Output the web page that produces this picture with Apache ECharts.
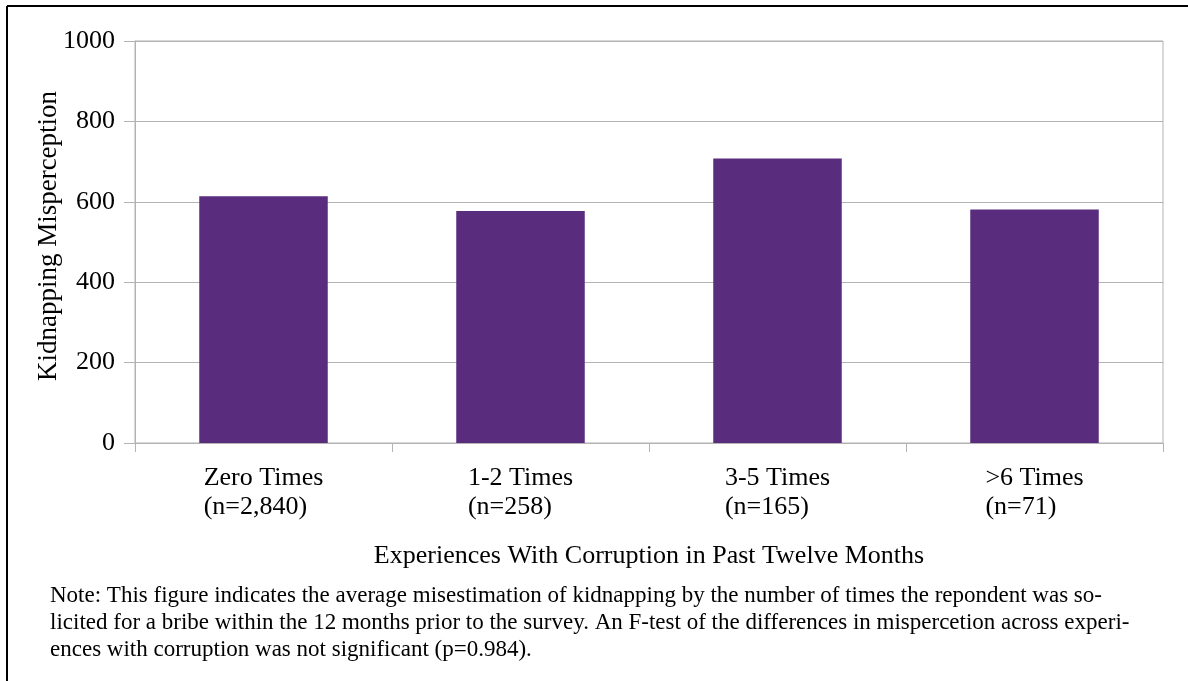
<!DOCTYPE html>
<html>
<head>
<meta charset="utf-8">
<script src="https://cdn.jsdelivr.net/npm/echarts@6/dist/echarts.min.js"></script>
<style>
  html, body { margin: 0; padding: 0; background: #fff; }
  #chart { width: 1188px; height: 681px; }
</style>
</head>
<body>
<div id="chart"></div>
<script>
// ---- data ----
const categories = ['Zero Times', '1-2 Times', '3-5 Times', '>6 Times'];
const sampleSizes = ['(n=2,840)', '(n=258)', '(n=165)', '(n=71)'];
const values = [614, 577, 708, 581];
const yMin = 0, yMax = 1000, yStep = 200;
const titleText = 'Figure 4.3: Misperception of Kidnapping by Experience Being Solicited for a Bribe';
const yAxisTitle = 'Kidnapping Misperception';
const xAxisTitle = 'Experiences With Corruption in Past Twelve Months';
const noteLines = [
  'Note: This figure indicates the average misestimation of kidnapping by the number of times the repondent was so-',
  'licited for a bribe within the 12 months prior to the survey. An F-test of the differences in mispercetion across experi-',
  'ences with corruption was not significant (p=0.984).'
];

const serif = '"Liberation Serif", "Times New Roman", serif';
const gridColor = '#b3b3b3';

const chart = echarts.init(document.getElementById('chart'), null, { renderer: 'canvas' });
chart.setOption({
  backgroundColor: '#ffffff',
  animation: false,
  grid: {
    left: 135, right: 25, top: 41, bottom: 238,
    show: true, borderColor: gridColor, borderWidth: 1, backgroundColor: 'transparent'
  },
  xAxis: {
    type: 'category',
    data: categories,
    axisLine: { show: true, lineStyle: { color: gridColor, width: 1 } },
    axisTick: { show: true, length: 9, interval: 0, alignWithLabel: false, lineStyle: { color: gridColor } },
    axisLabel: {
      interval: 0,
      margin: 21,
      align: 'center',
      formatter: function (v, i) {
        return '{l|' + v + '}\n{l|' + sampleSizes[i] + '}';
      },
      rich: {
        l: { align: 'left', fontFamily: serif, fontSize: 26, lineHeight: 29, color: '#000' }
      }
    },
    name: xAxisTitle,
    nameLocation: 'middle',
    nameGap: 100,
    nameMoveOverlap: false,
    nameTextStyle: { fontFamily: serif, fontSize: 26, color: '#000' }
  },
  yAxis: {
    type: 'value',
    min: yMin, max: yMax, interval: yStep,
    axisLine: { show: true, lineStyle: { color: gridColor, width: 1 } },
    axisTick: { show: true, length: 11, inside: false, lineStyle: { color: gridColor } },
    splitLine: { show: true, lineStyle: { color: gridColor, width: 1 } },
    axisLabel: {
      margin: 20, fontFamily: serif, fontSize: 26, color: '#000',
      formatter: function (v) { return String(v); }
    },
    name: yAxisTitle,
    nameLocation: 'middle',
    nameGap: 73,
    nameRotate: 90,
    nameMoveOverlap: false,
    nameTextStyle: { fontFamily: serif, fontSize: 27, color: '#000', padding: [0, 0, 0, 12] }
  },
  series: [{
    type: 'bar',
    data: values,
    barWidth: '50%',
    itemStyle: { color: '#592c7e' }
  }],
  graphic: [
    {
      type: 'text', x: -22, y: -17, silent: true,
      style: { text: titleText, font: 'bold 33px ' + serif, fill: '#000', verticalAlign: 'middle', align: 'left' }
    },
    {
      type: 'line', silent: true,
      shape: { x1: 7, y1: 6, x2: 1188, y2: 6 },
      style: { stroke: '#000', lineWidth: 2 }
    },
    {
      type: 'line', silent: true,
      shape: { x1: 7, y1: 6, x2: 7, y2: 681 },
      style: { stroke: '#000', lineWidth: 2 }
    },
    {
      type: 'text', left: 50, top: 582, silent: true,
      style: {
        text: noteLines.join('\n'),
        font: '23px ' + serif,
        lineHeight: 27,
        fill: '#000'
      }
    }
  ]
});
</script>
</body>
</html>
